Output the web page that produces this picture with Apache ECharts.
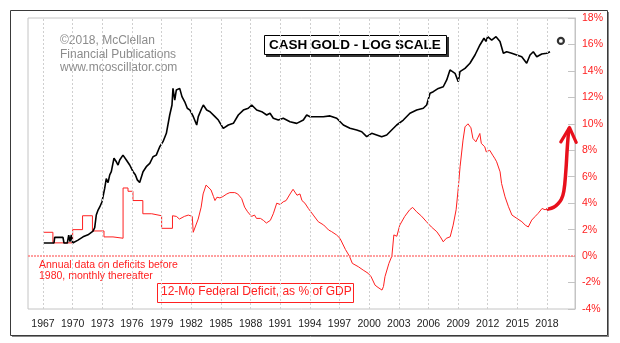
<!DOCTYPE html>
<html><head><meta charset="utf-8">
<script src="https://cdn.jsdelivr.net/npm/echarts@6/dist/echarts.min.js"></script>
<style>html,body{margin:0;padding:0;background:#fff}#c{width:620px;height:343px}</style>
</head><body><div id="c"></div>
<script>
// ---- Data ----
const yearTicks = [1967,1970,1973,1976,1979,1982,1985,1988,1991,1994,1997,2000,2003,2006,2009,2012,2015,2018];

// Cash gold price (USD/oz) (log scale)
const goldYears = [1967.07,1968.11,1968.18,1969.02,1969.12,1969.46,1969.6,1969.73,1969.86,1970.0,1970.2,1970.54,1971.05,1971.55,1972.06,1972.23,1972.39,1972.57,1972.74,1972.97,1973.24,1973.4,1973.58,1973.75,1973.91,1974.18,1974.42,1974.59,1974.76,1975.09,1975.43,1975.77,1976.11,1976.34,1976.54,1976.78,1977.12,1977.45,1977.8,1978.13,1978.46,1978.81,1979.14,1979.48,1979.82,1980.05,1980.15,1980.33,1980.49,1980.83,1981.06,1981.34,1981.6,1981.87,1982.21,1982.55,1982.71,1983.06,1983.22,1983.56,1983.9,1984.4,1984.74,1985.24,1985.75,1986.26,1986.76,1987.27,1987.77,1988.12,1988.62,1989.13,1989.63,1989.97,1990.3,1990.81,1991.31,1991.99,1992.67,1993.34,1993.68,1994.02,1994.69,1995.36,1996.04,1996.72,1997.39,1998.06,1998.74,1999.25,1999.75,2000.26,2000.76,2001.27,2001.78,2002.28,2002.79,2003.46,2004.13,2004.81,2005.48,2005.82,2006.16,2006.49,2007.0,2007.5,2007.85,2008.18,2008.69,2009.02,2009.19,2009.7,2010.2,2010.71,2011.21,2011.62,2011.82,2011.99,2012.4,2012.84,2013.24,2013.58,2013.92,2014.43,2014.93,2015.44,2015.94,2016.28,2016.61,2016.96,2017.46,2017.97,2018.3];
const goldPrices = [35,35,39,39,35,35,40.8,36,41,35,36,37,39.4,41,44,47,60,66,70,77.5,100,121,112,130,138,179,167,157,173,190,173,157,138,130,118,112,138,152,162,184,190,223,246,289,411,498,686,548,666,686,585,530,468,452,398,339,398,468,498,452,438,398,373,318,339,350,411,452,468,498,452,438,411,425,386,373,386,361,350,373,411,398,398,398,404,386,339,318,308,298,271,289,280,271,280,308,339,373,425,452,468,498,625,644,686,708,807,978,917,781,946,1009,1112,1304,1582,1800,1694,1855,1740,1855,1694,1348,1390,1348,1304,1262,1112,1304,1390,1262,1330,1348,1390];

// Federal deficit, % of GDP: annual before 1980
const annualYears  = [1967,1968,1970,1971,1972,1973.17,1974.08,1975.1,1975.6,1976.1,1977.1,1978.0,1979.0,1980.1];
const annualValues = [1.8,1.0,2.0,3.05,1.9,1.45,1.35,5.15,4.9,4.2,3.2,3.05,2.1,3.05];

// monthly thereafter
const monthlyYears  = [1980.1,1980.5,1980.8,1981.3,1981.7,1982.1,1982.2,1982.4,1982.7,1983.0,1983.2,1983.5,1983.7,1984.0,1984.25,1984.4,1984.6,1984.9,1985.2,1985.6,1985.9,1986.4,1986.7,1987.1,1987.4,1987.7,1988.1,1988.4,1988.6,1989.0,1989.3,1989.6,1990.0,1990.3,1990.65,1991.0,1991.3,1991.6,1992.0,1992.3,1992.5,1992.7,1993.0,1993.2,1993.5,1993.85,1994.35,1994.85,1995.4,1995.9,1996.2,1996.7,1997.05,1997.6,1998.0,1998.3,1998.9,1999.4,1999.9,2000.2,2000.6,2000.9,2001.3,2001.45,2001.6,2002.0,2002.3,2002.5,2002.8,2003.1,2003.6,2004.1,2004.4,2004.8,2005.3,2005.8,2006.3,2006.85,2007.2,2007.5,2007.8,2008.2,2008.5,2008.8,2009.0,2009.2,2009.5,2009.7,2010.0,2010.15,2010.3,2010.5,2010.8,2011.0,2011.2,2011.35,2011.7,2011.85,2012.2,2012.5,2012.7,2012.9,2013.25,2013.4,2013.75,2014.1,2014.45,2014.95,2015.45,2015.8,2016.1,2016.45,2016.8,2017.1,2017.5,2017.8,2018.05];
const monthlyValues = [3.05,3.0,2.8,3.0,3.1,3.0,1.8,2.2,2.8,3.7,4.7,5.37,5.3,5.0,4.5,4.2,4.45,4.4,4.5,4.7,4.8,4.8,4.7,4.35,3.7,3.35,3.0,3.1,2.85,2.85,2.7,2.5,2.7,3.2,4.0,3.9,4.1,4.2,4.7,5.05,4.9,4.6,4.7,4.2,4.0,3.6,3.1,2.6,2.35,1.97,1.85,1.6,1.34,0.5,0.0,-0.55,-0.8,-1.06,-1.3,-1.56,-2.2,-2.37,-2.57,-2.3,-1.56,-0.55,0.0,1.6,1.5,2.34,3.0,3.5,3.68,3.35,3.02,2.6,2.2,1.84,1.46,1.08,1.34,1.46,2.34,3.5,5.0,6.75,8.77,9.77,10.0,10.08,9.7,8.9,8.64,8.5,9.27,8.52,8.26,7.88,8.0,7.63,7.4,7.13,6.37,5.49,4.48,3.73,3.1,2.85,2.6,2.34,2.2,2.72,3.0,3.23,3.6,3.5,3.6];

// Hand-drawn projection arrow (deficit %)
const arrowYears  = [2018.1,2018.7,2019.1,2019.45,2019.7,2019.9,2020.05,2020.2];
const arrowValues = [3.55,3.7,3.95,4.3,4.9,6.4,8.2,9.6];
const arrowHeadYears  = [2019.4,2020.27,2020.95];
const arrowHeadValues = [8.64,9.72,8.6];

// Gold projection marker
const dotYear = 2019.4, dotPrice = 1709;

const deficitTicks = {min:-4, max:18, interval:2};

// ---- Chart ----
const chart = echarts.init(document.getElementById('c'), null, {renderer:'canvas'});
const zip = (a,b) => a.map((v,i)=>[v,b[i]]);
const FONT = '"Liberation Sans", Arial, sans-serif';
const RED = '#ff2020';

chart.setOption({
  animation:false,
  backgroundColor:'#fff',
  grid:{left:28, top:18, right:45, bottom:34, show:true, borderColor:'#c4c4c4', borderWidth:1, outerBoundsMode:'none', containLabel:false},
  xAxis:{type:'value', min:1965.48, max:2020.83,
    axisLine:{show:false}, axisTick:{show:false}, splitLine:{show:false},
    axisLabel:{customValues:yearTicks, formatter:v=>String(Math.round(v)), color:'#222', fontSize:10.5, fontFamily:FONT, margin:10}},
  yAxis:[
    {type:'value', position:'right', min:deficitTicks.min, max:deficitTicks.max, interval:deficitTicks.interval,
      axisLine:{show:true, lineStyle:{color:'#c4c4c4'}},
      axisTick:{show:true, inside:true, length:7, lineStyle:{color:'#c4c4c4'}},
      splitLine:{show:false},
      axisLabel:{formatter:'{value}%', color:RED, fontSize:10.5, fontFamily:FONT, margin:7}},
    {type:'log', show:false, min:9.83, max:2658, splitLine:{show:false}}
  ],
  series:[
    {type:'line', data:[], silent:true,
      markLine:{silent:true, symbol:'none', label:{show:false},
        lineStyle:{color:'#cfcfcf', type:[2,2], width:1},
        data:yearTicks.map(y=>({xAxis:y}))}},
    {type:'line', data:[], yAxisIndex:0, silent:true,
      markLine:{silent:true, symbol:'none', label:{show:false},
        lineStyle:{color:'#ff8080', type:[2,1], width:1.5},
        data:[{yAxis:0}]}},
    {type:'line', name:'annual', yAxisIndex:0, step:'end', showSymbol:false, data:zip(annualYears,annualValues),
      lineStyle:{color:RED, width:1}},
    {type:'line', name:'monthly', yAxisIndex:0, showSymbol:false, data:zip(monthlyYears,monthlyValues),
      lineStyle:{color:RED, width:1}},
    {type:'line', name:'arrow', yAxisIndex:0, showSymbol:false, smooth:0.4, clip:false, data:zip(arrowYears,arrowValues),
      lineStyle:{color:'#e8101c', width:3.5, cap:'round', join:'round'}},
    {type:'line', name:'arrowhead', yAxisIndex:0, showSymbol:false, clip:false, data:zip(arrowHeadYears,arrowHeadValues),
      lineStyle:{color:'#e8101c', width:3.2, cap:'round', join:'round'}},
    {type:'line', name:'gold', yAxisIndex:1, showSymbol:false, data:zip(goldYears,goldPrices),
      lineStyle:{color:'#000', width:1.6}},
    {type:'scatter', yAxisIndex:1, data:[[dotYear,dotPrice]], symbol:'circle', symbolSize:6,
      itemStyle:{color:'#fff', borderColor:'#000', borderWidth:2.2}}
  ],
  graphic:[
    {type:'rect', shape:{x:10.5,y:10.5,width:597,height:325}, style:{fill:null, stroke:'#3a3a3a', lineWidth:1}, silent:true},
    {type:'line', shape:{x1:608.5,y1:12,x2:608.5,y2:337}, style:{stroke:'#888', lineWidth:1}, silent:true},
    {type:'line', shape:{x1:12,y1:336.5,x2:609,y2:336.5}, style:{stroke:'#888', lineWidth:1}, silent:true},
    {type:'text', left:60, top:34, style:{text:'©2018, McClellan\nFinancial Publications\nwww.mcoscillator.com', font:'12px '+FONT, fill:'#8c8c8c', lineHeight:13.5}, silent:true},
    {type:'rect', shape:{x:266,y:37,width:183,height:20}, style:{fill:'#333'}, silent:true},
    {type:'rect', shape:{x:264.5,y:35.5,width:182,height:19}, style:{fill:'#fff', stroke:'#000', lineWidth:1}, silent:true},
    {type:'text', left:269, top:38, style:{text:'CASH GOLD - LOG SCALE', font:'bold 13.5px '+FONT, fill:'#000'}, silent:true},
    {type:'rect', shape:{x:157.5,y:283.5,width:196,height:19}, style:{fill:'#fff', stroke:RED, lineWidth:1}, silent:true},
    {type:'text', left:161, top:286, style:{text:'12-Mo Federal Deficit, as % of GDP', font:'12px '+FONT, fill:RED}, silent:true},
    {type:'text', left:39, top:259, style:{text:'Annual data on deficits before\n1980, monthly thereafter', font:'10.5px '+FONT, fill:RED, lineHeight:11.5}, silent:true}
  ]
});
</script>
</body></html>
